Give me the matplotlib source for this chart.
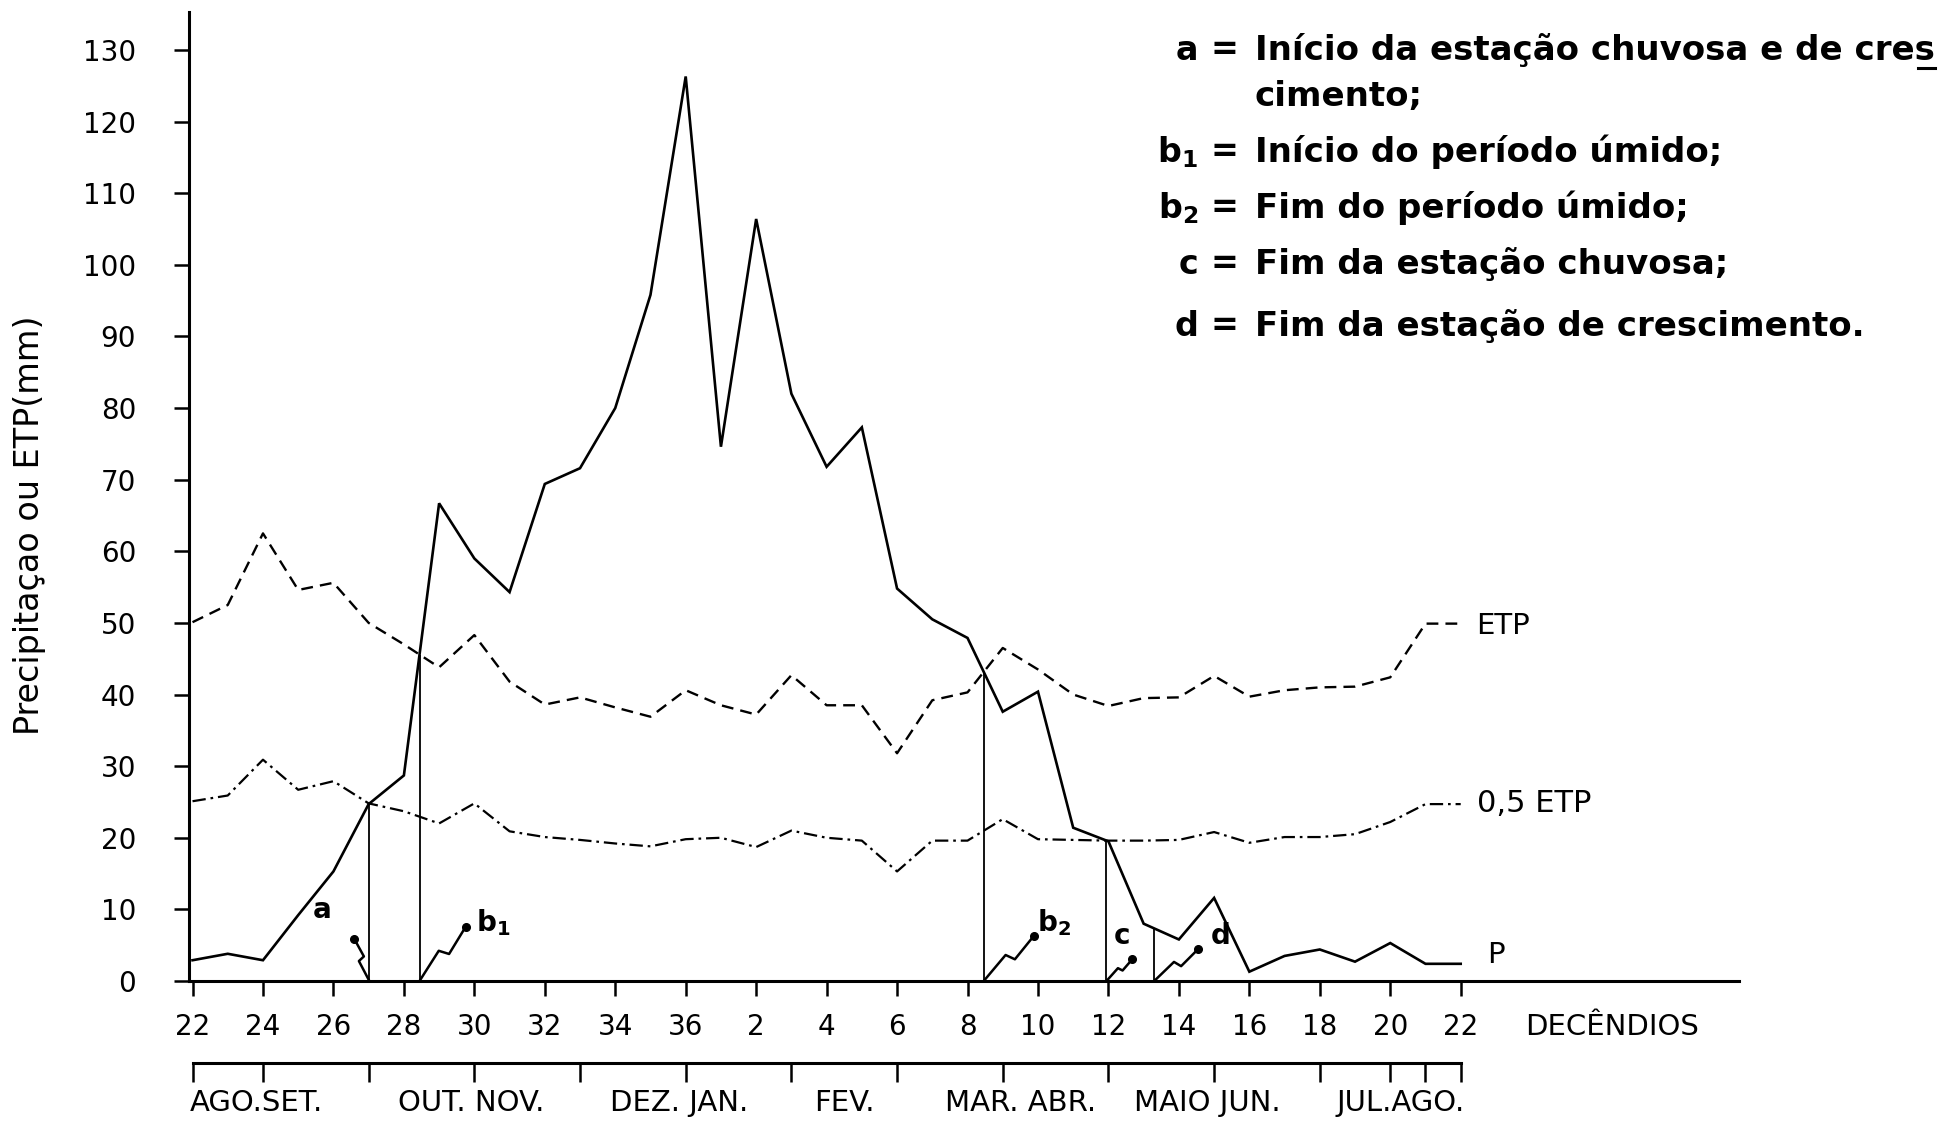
import numpy as np
import matplotlib
matplotlib.use("Agg")
import matplotlib.pyplot as plt
from matplotlib.lines import Line2D

plt.rcParams['font.family'] = ['DejaVu Sans']

# ---------------- data ----------------
DECENDIOS = list(range(22, 37)) + list(range(1, 23))
P = [2.9, 3.8, 2.9, 9.2, 15.3, 24.7, 28.7, 66.7, 59.0, 54.3, 69.4, 71.6, 80.0, 95.8, 126.3,
     74.6, 106.4, 82.0, 71.8, 77.3, 54.8, 50.5, 47.9, 37.6, 40.4, 21.4, 19.5, 8.0, 5.8, 11.6,
     1.3, 3.5, 4.4, 2.7, 5.3, 2.4, 2.4]
ETP = [50.1, 52.5, 62.5, 54.6, 55.6, 50.0, 47.0, 43.8, 48.3, 41.8, 38.6, 39.6, 38.2, 36.9, 40.6,
       38.5, 37.2, 42.7, 38.5, 38.5, 31.8, 39.2, 40.3, 46.5, 43.5, 40.0, 38.4, 39.5, 39.6, 42.6,
       39.7, 40.6, 41.0, 41.1, 42.4, 49.9, 49.9]
ETP_HALF = [25.1, 25.9, 30.9, 26.7, 27.9, 24.8, 23.7, 22.0, 24.8, 20.9, 20.1, 19.7, 19.2, 18.8, 19.8,
            20.0, 18.7, 21.0, 20.0, 19.6, 15.3, 19.6, 19.6, 22.6, 19.8, 19.7, 19.6, 19.6, 19.7, 20.8,
            19.3, 20.1, 20.1, 20.5, 22.2, 24.7, 24.7]
YTICKS = list(range(0, 131, 10))
MONTH_LABELS = ["AGO.SET.", "OUT. NOV.", "DEZ. JAN.", "FEV.", "MAR. ABR.", "MAIO JUN.", "JUL.AGO."]
MONTH_TICK_DECENDIOS = [22, 24, 27, 30, 33, 36, 3, 6, 9, 12, 15, 18, 20, 21, 22]
D_END = 13.3   # decêndio do fim da estação de crescimento (d)
LEGEND_SYMBOLS = ["a", "", r"b$_\mathbf{1}$", r"b$_\mathbf{2}$", "c", "d"]
LEGEND_TEXTS = ["Início da estação chuvosa e de cres", "cimento;", "Início do período úmido;",
                "Fim do período úmido;", "Fim da estação chuvosa;", "Fim da estação de crescimento."]

# ---------------- layout ----------------
W, H = 1950, 1121
fig = plt.figure(figsize=(W / 100, H / 100), dpi=100)
fig.patch.set_facecolor("white")
ax_l, ax_r, ax_b, ax_t = 189, 1739, 981, 12
ax = fig.add_axes([ax_l / W, 1 - ax_b / H, (ax_r - ax_l) / W, (ax_b - ax_t) / H])
ax.set_xlim(-0.1, 43.9)
ax.set_ylim(0, 135.3)
for s in ["top", "right"]:
    ax.spines[s].set_visible(False)
for s in ["left", "bottom"]:
    ax.spines[s].set_linewidth(2.2)

def seq_to_idx(seq):
    out, wrapped, prev = [], False, None
    for d in seq:
        if prev is not None and d < prev:
            wrapped = True
        out.append(d + 14 if wrapped else d - 22)
        prev = d
    return out

x = np.arange(len(DECENDIOS))
P_a, ETP_a, H_a = np.array(P), np.array(ETP), np.array(ETP_HALF)

ax.plot(x, P_a, color="black", lw=1.9, solid_joinstyle="miter")
ax.plot(x, ETP_a, color="black", lw=1.7, dashes=(5, 3))
ax.plot(x, H_a, color="black", lw=1.6, dashes=(6, 2.2, 1.2, 2.2))

ax.set_yticks(YTICKS)
ax.set_yticklabels([str(v) for v in YTICKS], fontsize=20)
ax.set_xticks(x[::2])
ax.set_xticklabels([str(d) for d in DECENDIOS[::2]], fontsize=20)
ax.tick_params(axis="y", direction="out", length=11, width=1.8, pad=27)
ax.tick_params(axis="x", direction="out", length=11, width=1.8, pad=12)
fig.text(30 / W, 1 - 525 / H, "Precipitaçao ou ETP(mm)", fontsize=24, rotation=90,
         ha="center", va="center")

# crossings
def crossing(a, b, sign):
    d = a - b
    for i in range(len(d) - 1):
        if sign > 0 and d[i] < 0 <= d[i + 1] or sign < 0 and d[i] > 0 >= d[i + 1]:
            t = d[i] / (d[i] - d[i + 1])
            return i + t
    return None

xa = crossing(P_a, H_a, +1)
xb1 = crossing(P_a, ETP_a, +1)
i0 = len(x) // 2
xb2 = i0 + crossing(P_a[i0:], ETP_a[i0:], -1)
xc = i0 + crossing(P_a[i0:], H_a[i0:], -1)
xd = seq_to_idx([22, D_END])[1]
marks = [xa, xb1, xb2, xc, xd]
for xm in marks:
    ax.vlines(xm, 0, np.interp(xm, x, P_a), color="black", lw=1.3)

# lightning arrows
def bolt(x0, vec):
    base = ax.transData.transform((x0, 0))
    v = np.array(vec, float)
    L = np.hypot(*v)
    u = v / L
    n = np.array([-u[1], u[0]])
    pts = np.array([base, base + 0.50 * L * u + 0.07 * L * n,
                    base + 0.56 * L * u - 0.07 * L * n, base + L * u])
    d = ax.transData.inverted().transform(pts)
    ax.plot(d[:, 0], d[:, 1], color="black", lw=1.8, clip_on=False)
    ax.plot(d[-1, 0], d[-1, 1], "o", color="black", ms=5.5, clip_on=False)

bolt_vecs = [(-15, 42), (46, 54), (50, 45), (26, 22), (44, 32)]
for xm, vv in zip(marks, bolt_vecs):
    bolt(xm, vv)

lab_kw = dict(fontsize=20, fontweight="bold", ha="center", va="center")
ax.text(xa - 1.35, 9.9, "a", **lab_kw)
ax.text(xb1 + 2.1, 8.2, r"b$_\mathbf{1}$", **lab_kw)
ax.text(xb2 + 2.0, 8.2, r"b$_\mathbf{2}$", **lab_kw)
ax.text(xc + 0.45, 6.3, "c", **lab_kw)
ax.text(xd + 1.9, 6.3, "d", **lab_kw)

# curve labels
ax.text(36.45, 49.6, "ETP", fontsize=21, va="center", ha="left")
ax.text(36.45, 24.8, "0,5 ETP", fontsize=22, va="center", ha="left")
ax.text(36.75, 3.6, "P", fontsize=21, va="center", ha="left")
ax.text(40.3, -6.4, "DECÊNDIOS", fontsize=21, va="center", ha="center", clip_on=False)

# month scale
m_y = 1063
ax2 = fig.add_axes([ax_l / W, 1 - m_y / H, (ax_r - ax_l) / W, 0.0001])
ax2.set_xlim(ax.get_xlim())
ax2.set_ylim(0, 1)
ax2.patch.set_visible(False)
for s in ["top", "right", "left"]:
    ax2.spines[s].set_visible(False)
ax2.spines["bottom"].set_linewidth(2.2)
ax2.spines["bottom"].set_bounds(0, 36)
ax2.set_yticks([])
ax2.set_xticks(seq_to_idx(MONTH_TICK_DECENDIOS))
ax2.set_xticklabels([])
ax2.tick_params(axis="x", direction="out", length=14, width=1.8)
month_pos = [1.8, 7.9, 13.8, 18.5, 23.5, 28.8, 34.3]
for lbl, mp in zip(MONTH_LABELS, month_pos):
    fig.text((ax_l + (mp + 0.1) * (ax_r - ax_l) / 44.0) / W, 1 - 1103 / H, lbl,
             fontsize=21, ha="center", va="center")

# legend block
leg_y = [50, 96, 152, 208, 264, 326]
first_txt = None
for sym, txt, yy in zip(LEGEND_SYMBOLS, LEGEND_TEXTS, leg_y):
    fy = 1 - yy / H
    if sym:
        fig.text(1198 / W, fy, sym, fontsize=24, fontweight="bold", ha="right", va="center")
        fig.text(1224 / W, fy, "=", fontsize=24, fontweight="bold", ha="center", va="center")
    t = fig.text(1255 / W, fy, txt, fontsize=24.5, fontweight="bold", ha="left", va="center")
    if first_txt is None:
        first_txt = t

# underline under the last letter of "cres" (hyphenation mark of the original)
renderer = fig.canvas.get_renderer()
bb = first_txt.get_window_extent(renderer=renderer)
x1 = bb.x1
x0 = x1 - 17
yline = bb.y0 - 1
fig.add_artist(Line2D([x0 / W, x1 / W], [yline / H, yline / H], color="black", lw=2.2,
                      transform=fig.transFigure))

fig.savefig("out.png", dpi=100, facecolor="white")
